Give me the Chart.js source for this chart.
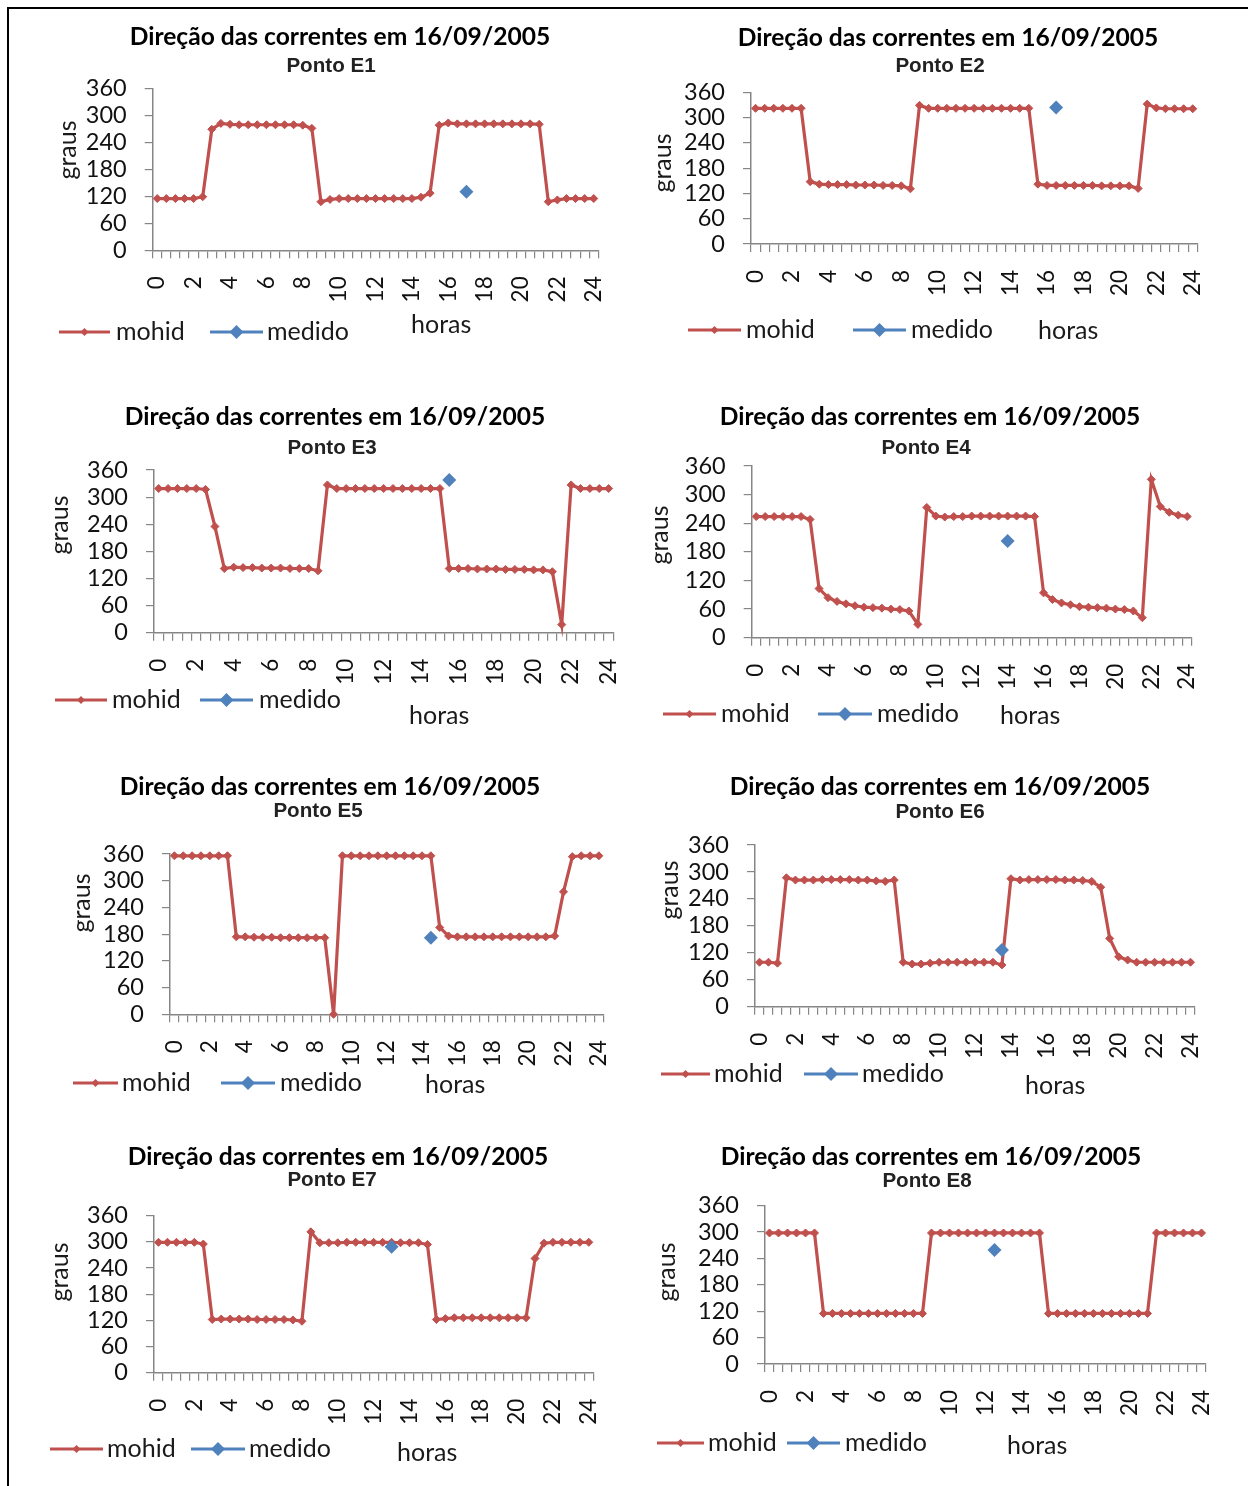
<!DOCTYPE html>
<html lang="pt">
<head>
<meta charset="utf-8">
<title>Direção das correntes em 16/09/2005</title>
<script src="https://cdn.jsdelivr.net/npm/chart.js"></script>
<style>
  html, body { margin: 0; padding: 0; background: #fff; overflow: hidden; }
  body { width: 1248px; height: 1486px; position: relative; }
  #moldura { position: absolute; left: 7px; top: 7px; width: 1300px; height: 1600px;
             border-left: 2px solid #000; border-top: 2px solid #000; }
  canvas { position: absolute; }
</style>
</head>
<body>
<div id="moldura"></div>
<canvas id="e1"></canvas>
<canvas id="e2"></canvas>
<canvas id="e3"></canvas>
<canvas id="e4"></canvas>
<canvas id="e5"></canvas>
<canvas id="e6"></canvas>
<canvas id="e7"></canvas>
<canvas id="e8"></canvas>

<script>
// ---- dados ----
const titulo = 'Direção das correntes em 16/09/2005';
const pontos = ['Ponto E1', 'Ponto E2', 'Ponto E3', 'Ponto E4', 'Ponto E5', 'Ponto E6', 'Ponto E7', 'Ponto E8'];

const horas = [0, 0.5, 1, 1.5, 2, 2.5, 3, 3.5, 4, 4.5, 5, 5.5, 6, 6.5, 7, 7.5, 8, 8.5, 9, 9.5,
               10, 10.5, 11, 11.5, 12, 12.5, 13, 13.5, 14, 14.5, 15, 15.5, 16, 16.5, 17, 17.5,
               18, 18.5, 19, 19.5, 20, 20.5, 21, 21.5, 22, 22.5, 23, 23.5, 24];
const rotulosHoras = [0, 2, 4, 6, 8, 10, 12, 14, 16, 18, 20, 22, 24];
const rotulosGraus = [0, 60, 120, 180, 240, 300, 360];

const mohidE1 = [115, 115, 115, 115, 115, 119, 269, 282, 280, 279, 279, 279, 279, 279, 279, 279, 278,
                 271, 108, 113, 115, 115, 115, 115, 115, 115, 115, 115, 115, 118, 127, 278, 283,
                 281, 281, 281, 281, 281, 281, 281, 281, 281, 280, 108, 112, 115, 115, 115, 115];
const mohidE2 = [322, 322, 322, 322, 322, 322, 148, 142, 141, 141, 141, 140, 140, 140, 139, 139, 138,
                 131, 329, 322, 322, 322, 322, 322, 322, 322, 322, 322, 322, 322, 322, 142, 139,
                 139, 139, 139, 139, 139, 138, 138, 138, 138, 132, 332, 323, 321, 321, 321, 321];
const mohidE3 = [319, 319, 319, 319, 319, 317, 235, 142, 145, 144, 144, 143, 143, 143, 142, 142, 142,
                 137, 327, 319, 319, 319, 319, 319, 319, 319, 319, 319, 319, 319, 319, 142, 142,
                 142, 141, 141, 141, 140, 140, 140, 139, 139, 135, 18, 327, 319, 319, 319, 319];
const mohidE4 = [254, 254, 254, 254, 254, 254, 248, 103, 84, 76, 71, 67, 64, 63, 62, 60, 59,
                 56, 28, 273, 255, 253, 254, 254, 255, 255, 255, 255, 255, 255, 255, 254, 94,
                 80, 73, 69, 65, 64, 63, 62, 60, 59, 56, 42, 332, 275, 263, 257, 254];
const mohidE5 = [356, 356, 356, 356, 356, 356, 356, 174, 174, 173, 173, 173, 172, 172, 172, 172, 172,
                 172, 0, 356, 356, 356, 356, 356, 356, 356, 356, 356, 356, 356, 195, 176, 174,
                 174, 174, 174, 174, 174, 174, 174, 174, 174, 174, 176, 275, 354, 356, 356, 356];
const mohidE6 = [99, 99, 97, 287, 282, 282, 282, 283, 283, 283, 283, 282, 282, 280, 279, 282, 99,
                 95, 95, 97, 99, 99, 99, 99, 99, 99, 99, 93, 285, 282, 283, 283, 283,
                 283, 282, 282, 281, 279, 266, 152, 111, 104, 99, 99, 99, 99, 99, 99, 99];
const mohidE7 = [299, 299, 299, 299, 299, 295, 122, 123, 123, 123, 123, 122, 122, 122, 122, 121, 118,
                 323, 298, 298, 298, 299, 299, 299, 299, 299, 299, 298, 298, 298, 294, 122, 124,
                 126, 126, 126, 126, 126, 126, 126, 126, 126, 262, 297, 299, 299, 299, 299, 299];
const mohidE8 = [298, 298, 298, 298, 298, 298, 115, 115, 115, 115, 115, 115, 115, 115, 115, 115, 115,
                 115, 298, 298, 298, 298, 298, 298, 298, 298, 298, 298, 298, 298, 298, 115, 115,
                 115, 115, 115, 115, 115, 115, 115, 115, 115, 115, 298, 298, 298, 298, 298, 298];
const mohid = [mohidE1, mohidE2, mohidE3, mohidE4, mohidE5, mohidE6, mohidE7, mohidE8];

const medidoHoras   = [17, 16.5, 15.5, 14, 14.5, 13.5, 13, 12.5];
const medidoValores = [130, 324, 338, 203, 172, 126, 289, 259];

// ---- posicao de cada grafico na pagina (px) ----
const celulas = [
  { x: 10, y: 10, w: 612, h: 360 }, { x: 625, y: 10, w: 620, h: 360 },
  { x: 10, y: 380, w: 612, h: 360 }, { x: 625, y: 380, w: 620, h: 360 },
  { x: 10, y: 752, w: 612, h: 360 }, { x: 625, y: 752, w: 620, h: 360 },
  { x: 10, y: 1125, w: 612, h: 360 }, { x: 625, y: 1125, w: 620, h: 360 }
];
const layouts = [
  { area: [152.7, 598.3, 88.3, 250.3], tit: [340, 37], sub: [331, 66], graus: [68, 150],
    leg: [332, 59, 110, 116, 210, 263, 267], horas: [411, 325] },
  { area: [751, 1197.3, 92.3, 244], tit: [948, 38], sub: [940, 66], graus: [663, 163],
    leg: [330, 688, 741, 746, 853, 906, 911], horas: [1038, 331] },
  { area: [154, 613.3, 470, 632.7], tit: [335, 417], sub: [332, 448], graus: [60, 525],
    leg: [700, 55, 107, 112, 200, 253, 259], horas: [409, 716] },
  { area: [751.7, 1191.7, 466, 637.7], tit: [930, 417], sub: [926, 448], graus: [660, 535],
    leg: [714, 663, 716, 721, 818, 872, 877], horas: [1000, 716] },
  { area: [170, 603.3, 854, 1014.3], tit: [330, 787], sub: [318, 811], graus: [82, 903],
    leg: [1083, 73, 118, 122, 221, 275, 280], horas: [425, 1085] },
  { area: [755, 1195, 845, 1006.7], tit: [940, 787], sub: [940, 812], graus: [670, 890],
    leg: [1074, 661, 710, 714, 804, 858, 862], horas: [1025, 1086] },
  { area: [154, 593.3, 1215.7, 1372.7], tit: [338, 1157], sub: [332, 1180], graus: [60, 1272],
    leg: [1449, 50, 103, 107, 191, 245, 249], horas: [397, 1453] },
  { area: [765, 1206, 1205.7, 1364], tit: [931, 1157], sub: [927, 1181], graus: [667, 1272],
    leg: [1443, 657, 704, 708, 787, 840, 845], horas: [1007, 1446] }
];

const VERMELHO = '#C0504D';
const AZUL = '#4F81BD';
const EIXO = '#868686';
const LARG_Y = 70;   // caixa dos rotulos do eixo y
const ALT_X = 62;    // caixa dos rotulos do eixo x

Chart.defaults.font.family = 'Lato';
Chart.defaults.color = '#000';

function losango(ctx, x, y, r, cor) {
  ctx.fillStyle = cor;
  ctx.beginPath();
  ctx.moveTo(x, y - r);
  ctx.lineTo(x + r, y);
  ctx.lineTo(x, y + r);
  ctx.lineTo(x - r, y);
  ctx.closePath();
  ctx.fill();
}

// titulo, subtitulo, legenda e nomes dos eixos desenhados no canvas
function enfeites(lay, cel, nome) {
  return {
    id: 'enfeites',
    afterDraw(chart) {
      const ctx = chart.ctx;
      const px = x => x - cel.x, py = y => y - cel.y;
      ctx.save();
      ctx.textAlign = 'center';
      ctx.textBaseline = 'middle';
      ctx.fillStyle = '#000';
      ctx.font = 'bold 24.6px Lato';
      ctx.fillText(titulo, px(lay.tit[0]), py(lay.tit[1]));
      ctx.fillStyle = '#222';
      ctx.font = 'bold 20.6px "Liberation Sans"';
      ctx.fillText(nome, px(lay.sub[0]), py(lay.sub[1]));

      ctx.fillStyle = '#1a1a1a';
      ctx.font = '25px Lato';
      ctx.save();
      ctx.translate(px(lay.graus[0]), py(lay.graus[1]));
      ctx.rotate(-Math.PI / 2);
      ctx.fillText('graus', 0, 0);
      ctx.restore();

      // legenda
      const [ly, a0, a1, at, b0, b1, bt] = lay.leg;
      ctx.lineWidth = 3;
      ctx.strokeStyle = VERMELHO;
      ctx.beginPath(); ctx.moveTo(px(a0), py(ly)); ctx.lineTo(px(a1), py(ly)); ctx.stroke();
      losango(ctx, px((a0 + a1) / 2), py(ly), 4, VERMELHO);
      ctx.strokeStyle = AZUL;
      ctx.beginPath(); ctx.moveTo(px(b0), py(ly)); ctx.lineTo(px(b1), py(ly)); ctx.stroke();
      losango(ctx, px((b0 + b1) / 2), py(ly), 7, AZUL);

      ctx.fillStyle = '#1a1a1a';
      ctx.textAlign = 'left';
      ctx.fillText('mohid', px(at), py(ly));
      ctx.fillText('medido', px(bt), py(ly));
      ctx.fillText('horas', px(lay.horas[0]), py(lay.horas[1]));
      ctx.restore();
    }
  };
}

function criaGrafico(k) {
  const cel = celulas[k], lay = layouts[k];
  const cv = document.getElementById('e' + (k + 1));
  cv.width = cel.w; cv.height = cel.h;
  cv.style.left = cel.x + 'px'; cv.style.top = cel.y + 'px';

  const [x0, x1, yTopo, yBase] = lay.area;
  const pad = {
    left: x0 - cel.x - LARG_Y,
    right: cel.x + cel.w - x1,
    top: yTopo - cel.y,
    bottom: cel.y + cel.h - yBase - ALT_X
  };
  const semMargem = s => { s.paddingLeft = 0; s.paddingRight = 0; s.paddingTop = 0; s.paddingBottom = 0; };

  const medido = horas.map(h => (h === medidoHoras[k] ? medidoValores[k] : null));

  return new Chart(cv, {
    type: 'line',
    data: {
      labels: horas.map(String),
      datasets: [
        {
          label: 'mohid', data: mohid[k], order: 1,
          borderColor: VERMELHO, backgroundColor: VERMELHO, borderWidth: 3.2,
          pointStyle: 'rectRot', pointRadius: 4, pointBorderWidth: 1,
          pointBackgroundColor: VERMELHO, pointBorderColor: VERMELHO,
          tension: 0, clip: false
        },
        {
          label: 'medido', data: medido, order: 0, showLine: false,
          borderColor: AZUL, backgroundColor: AZUL,
          pointStyle: 'rectRot', pointRadius: 7, pointBorderWidth: 0,
          pointBackgroundColor: AZUL, clip: false
        }
      ]
    },
    options: {
      responsive: false,
      animation: false,
      events: [],
      layout: { padding: pad },
      plugins: { legend: { display: false }, title: { display: false }, tooltip: { enabled: false } },
      scales: {
        x: {
          type: 'category',
          offset: true,
          grid: { offset: true, drawOnChartArea: false, tickLength: 8, color: EIXO, lineWidth: 1.2 },
          border: { color: EIXO, width: 1.5 },
          ticks: {
            autoSkip: false, minRotation: 90, maxRotation: 90, padding: 18,
            font: { size: 22.5 }, color: '#111',
            callback: (v, i) => (rotulosHoras.includes(horas[i]) ? String(horas[i]) : '')
          },
          afterFit: s => { s.height = ALT_X; semMargem(s); }
        },
        y: {
          min: rotulosGraus[0],
          max: rotulosGraus[rotulosGraus.length - 1],
          afterBuildTicks: s => { s.ticks = rotulosGraus.map(v => ({ value: v })); },
          grid: { drawOnChartArea: false, tickLength: 8, color: EIXO, lineWidth: 1.2 },
          border: { color: EIXO, width: 1.5 },
          ticks: { autoSkip: false, padding: 18, font: { size: 23.5 }, color: '#111' },
          afterFit: s => { s.width = LARG_Y; semMargem(s); }
        }
      }
    },
    plugins: [enfeites(lay, cel, pontos[k])]
  });
}

for (let k = 0; k < 8; k++) criaGrafico(k);
</script>
</body>
</html>
